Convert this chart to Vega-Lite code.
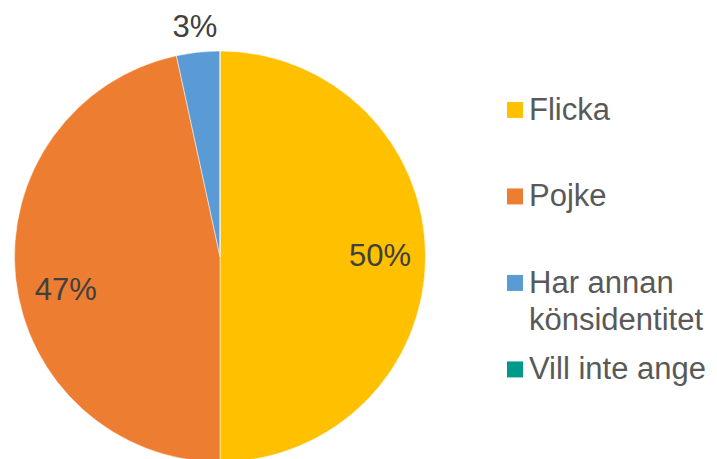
{
  "$schema": "https://vega.github.io/schema/vega-lite/v6.json",
  "background": "white",
  "padding": {"left": 13.5, "top": 11, "right": 0, "bottom": 0},
  "data": {
    "values": [
      {"idx": 1, "cat": "Flicka", "legendLabel": "Flicka", "value": 50, "label": "50%"},
      {"idx": 2, "cat": "Pojke", "legendLabel": "Pojke", "value": 46.6, "label": "47%"},
      {"idx": 3, "cat": "Har annan könsidentitet", "legendLabel": "Har annan\nkönsidentitet", "value": 3.4, "label": "3%"},
      {"idx": 4, "cat": "Vill inte ange", "legendLabel": "Vill inte ange", "value": 0, "label": ""}
    ]
  },
  "spacing": 80.5,
  "hconcat": [
    {
      "width": 411,
      "height": 411,
      "encoding": {
        "theta": {"field": "value", "type": "quantitative", "stack": true},
        "order": {"field": "idx", "type": "quantitative"},
        "detail": {"field": "cat", "type": "nominal"}
      },
      "layer": [
        {
          "mark": {"type": "arc", "stroke": "white", "strokeWidth": 0.5},
          "encoding": {
            "color": {
              "field": "cat",
              "type": "nominal",
              "scale": {
                "domain": ["Flicka", "Pojke", "Har annan könsidentitet", "Vill inte ange"],
                "range": ["#FFC000", "#ED7D31", "#5B9BD5", "#00998A"]
              },
              "legend": null
            }
          }
        },
        {
          "mark": {"type": "text", "radius": 160, "fontSize": 31, "font": "Liberation Sans", "fill": "#404040"},
          "encoding": {
            "text": {"condition": {"test": "datum.cat === 'Flicka'", "field": "label"}, "value": ""}
          }
        },
        {
          "mark": {"type": "text", "radius": 155, "dy": 18, "fontSize": 31, "font": "Liberation Sans", "fill": "#404040"},
          "encoding": {
            "text": {"condition": {"test": "datum.cat === 'Pojke'", "field": "label"}, "value": ""}
          }
        },
        {
          "mark": {"type": "text", "radius": 160, "dx": -8, "dy": -69, "fontSize": 31, "font": "Liberation Sans", "fill": "#404040"},
          "encoding": {
            "text": {"condition": {"test": "datum.cat === 'Har annan könsidentitet'", "field": "label"}, "value": ""}
          }
        }
      ]
    },
    {
      "width": 16,
      "height": 411,
      "encoding": {
        "y": {
          "field": "cat",
          "type": "nominal",
          "axis": null,
          "sort": ["Flicka", "Pojke", "Har annan könsidentitet", "Vill inte ange"],
          "scale": {"type": "point", "padding": 0.8757, "align": 0.389}
        }
      },
      "layer": [
        {
          "mark": {"type": "square", "size": 256, "filled": true, "opacity": 1},
          "encoding": {
            "color": {"field": "cat", "type": "nominal", "legend": null}
          }
        },
        {
          "mark": {
            "type": "text",
            "align": "left",
            "baseline": "alphabetic",
            "dx": 14,
            "dy": 10,
            "fontSize": 31,
            "lineHeight": 37,
            "lineBreak": "\n",
            "font": "Liberation Sans",
            "fill": "#595959"
          },
          "encoding": {"text": {"field": "legendLabel"}}
        }
      ]
    }
  ],
  "config": {"view": {"stroke": null}}
}
